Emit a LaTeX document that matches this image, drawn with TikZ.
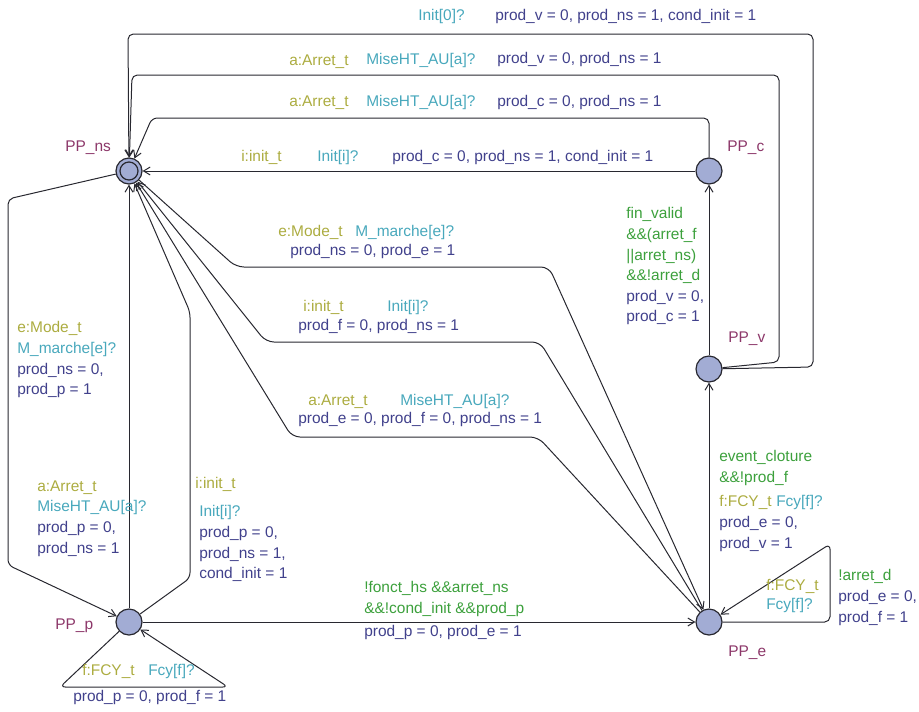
\documentclass[tikz,border=0pt]{standalone}
\usepackage{fontspec}
\setmainfont{Liberation Sans}
\usepackage{tikz}
\usetikzlibrary{arrows.meta}

\definecolor{nameclr}{RGB}{140,55,105}
\definecolor{selclr}{RGB}{172,172,64}
\definecolor{syncclr}{RGB}{72,168,188}
\definecolor{updclr}{RGB}{65,65,140}
\definecolor{guardclr}{RGB}{60,160,60}
\definecolor{locfill}{RGB}{162,172,212}
\definecolor{lineclr}{RGB}{40,40,48}

\tikzset{
  loc/.style={circle, draw=lineclr, fill=locfill, line width=0.9pt, minimum size=19.5pt, inner sep=0pt},
  txt/.style={inner sep=0pt, font=\fontsize{11.6pt}{15.4pt}\selectfont},
  lbl/.style={txt, anchor=west, text height=.73em, text depth=.21em},
  blk/.style={txt, anchor=north west, align=left},
  nm/.style={text=nameclr},
  sel/.style={text=selclr},
  sync/.style={text=syncclr},
  upd/.style={text=updclr},
  guard/.style={text=guardclr},
  trans/.style={draw=lineclr, line width=0.75pt, rounded corners=4pt, ->},
}

\begin{document}
\begin{tikzpicture}[x=0.75pt, y=-0.75pt, >={Straight Barb[length=5pt,width=6pt]}]
  \useasboundingbox (0,0) rectangle (919,711);

  % locations
  \node[loc] (ns) at (129,171) {};
  \node[loc] (c) at (709,171) {};
  \node[loc] (v) at (709,369) {};
  \node[loc] (e) at (709,622) {};
  \node[loc] (p) at (129,622) {};
  \draw[lineclr, line width=0.9pt] (ns.center) circle (9); % initial

  \node[lbl, nm] (nsName) at (65,148) {PP\_ns};
  \node[lbl, nm] (cName) at (727,148) {PP\_c};
  \node[lbl, nm] (vName) at (728,339) {PP\_v};
  \node[lbl, nm] (eName) at (728,653) {PP\_e};
  \node[lbl, nm] (pName) at (55,626) {PP\_p};

  % PP_v -> PP_ns (outer)
  \draw[trans] (v) -- (813,367) -- (813,34) -- (128,34) -- (ns);
  \node[lbl, sync] (s1) at (418,17) {Init[0]?};
  \node[lbl, upd] (u1) at (495,17) {prod\_v = 0, prod\_ns = 1, cond\_init = 1};

  % PP_v -> PP_ns (inner)
  \draw[trans] (v) -- (779,362) -- (779,75) -- (132,75) -- (ns);
  \node[lbl, sel] (a2) at (289,62) {a:Arret\_t};
  \node[lbl, sync] (s2) at (366,61) {MiseHT\_AU[a]?};
  \node[lbl, upd] (u2) at (497,60) {prod\_v = 0, prod\_ns = 1};

  % PP_c -> PP_ns
  \draw[trans] (c) -- (709,118) -- (152,118) -- (ns);
  \node[lbl, sel] (a3) at (289,103) {a:Arret\_t};
  \node[lbl, sync] (s3) at (366,103) {MiseHT\_AU[a]?};
  \node[lbl, upd] (u3) at (497,103) {prod\_c = 0, prod\_ns = 1};

  \draw[trans] (c) -- (ns);
  \node[lbl, sel] (a4) at (241,158) {i:init\_t};
  \node[lbl, sync] (s4) at (317,158) {Init[i]?};
  \node[lbl, upd] (u4) at (392,158) {prod\_c = 0, prod\_ns = 1, cond\_init = 1};

  % PP_v -> PP_c
  \draw[trans] (v) -- (c);
  \node[blk, guard] (g5) at (626,207.5) {fin\_valid\\\&\&(arret\_f\\\textbar\textbar arret\_ns)\\\&\&!arret\_d\\
    \textcolor{updclr}{prod\_v = 0,}\\\textcolor{updclr}{prod\_c = 1}};

  % PP_e -> PP_v
  \draw[trans] (e) -- (v);
  \node[blk, guard] (g6) at (719,450.5) {event\_cloture\\\&\&!prod\_f};
  \node[lbl, sel] (a6) at (719,503) {f:FCY\_t};
  \node[lbl, sync] (s6) at (776,503) {Fcy[f]?};
  \node[blk, upd] (u6) at (719,516.5) {prod\_e = 0,\\prod\_v = 1};

  % PP_e loop
  \draw[trans] (e) -- (830,622) -- (830,544) -- (e);
  \node[lbl, sel] (a7) at (766,587) {f:FCY\_t};
  \node[lbl, sync] (s7) at (766,606) {Fcy[f]?};
  \node[blk, guard] (g7) at (838,569.5) {!arret\_d\\\textcolor{updclr}{prod\_e = 0,}\\\textcolor{updclr}{prod\_f = 1}};

  % PP_p -> PP_e
  \draw[trans] (p) -- (e);
  \node[blk, guard] (g8) at (364,581.5) {!fonct\_hs \&\&arret\_ns\\\&\&!cond\_init \&\&prod\_p};
  \node[lbl, upd] (u8) at (364,633) {prod\_p = 0, prod\_e = 1};

  % PP_p loop
  \draw[trans] (p) -- (60,687) -- (228,687) -- (p);
  \node[lbl, sel] (a9) at (82,672) {f:FCY\_t};
  \node[lbl, sync] (s9) at (148,672) {Fcy[f]?};
  \node[lbl, upd] (u9) at (73,698) {prod\_p = 0, prod\_f = 1};

  % PP_ns -> PP_p
  \draw[trans] (ns) -- (8,199) -- (8,565) -- (p);
  \node[blk, upd] (u10) at (17,321.5) {\textcolor{selclr}{e:Mode\_t}\\\textcolor{syncclr}{M\_marche[e]?}\\prod\_ns = 0,\\prod\_p = 1};

  % PP_p -> PP_ns
  \draw[trans] (p) -- (ns);
  \node[blk, upd] (u11) at (37,480.5) {\textcolor{selclr}{a:Arret\_t}\\\textcolor{syncclr}{MiseHT\_AU[a]?}\\prod\_p = 0,\\prod\_ns = 1};

  \draw[trans] (p) -- (190,578) -- (190,312) -- (ns);
  \node[lbl, sel] (a12) at (195,485) {i:init\_t};
  \node[blk, upd] (u12) at (199,505.5) {\textcolor{syncclr}{Init[i]?}\\prod\_p = 0,\\prod\_ns = 1,\\cond\_init = 1};

  % PP_ns <-> PP_e
  \draw[trans, rounded corners=6pt] (ns) -- (236,267) -- (549,267) -- (e);
  \node[lbl, sel] (a13) at (278,233) {e:Mode\_t};
  \node[lbl, sync] (s13) at (355,233) {M\_marche[e]?};
  \node[lbl, upd] (u13) at (290,252) {prod\_ns = 0, prod\_e = 1};

  \draw[trans, rounded corners=6pt] (e) -- (540,342) -- (266,342) -- (ns);
  \node[lbl, sel] (a14) at (303,308) {i:init\_t};
  \node[lbl, sync] (s14) at (387,308) {Init[i]?};
  \node[lbl, upd] (u14) at (298,327) {prod\_f = 0, prod\_ns = 1};

  \draw[trans, rounded corners=6pt] (e) -- (538,437) -- (292,437) -- (ns);
  \node[lbl, sel] (a15) at (308,402) {a:Arret\_t};
  \node[lbl, sync] (s15) at (400,402) {MiseHT\_AU[a]?};
  \node[lbl, upd] (u15) at (298,420) {prod\_e = 0, prod\_f = 0, prod\_ns = 1};
\end{tikzpicture}
\end{document}
